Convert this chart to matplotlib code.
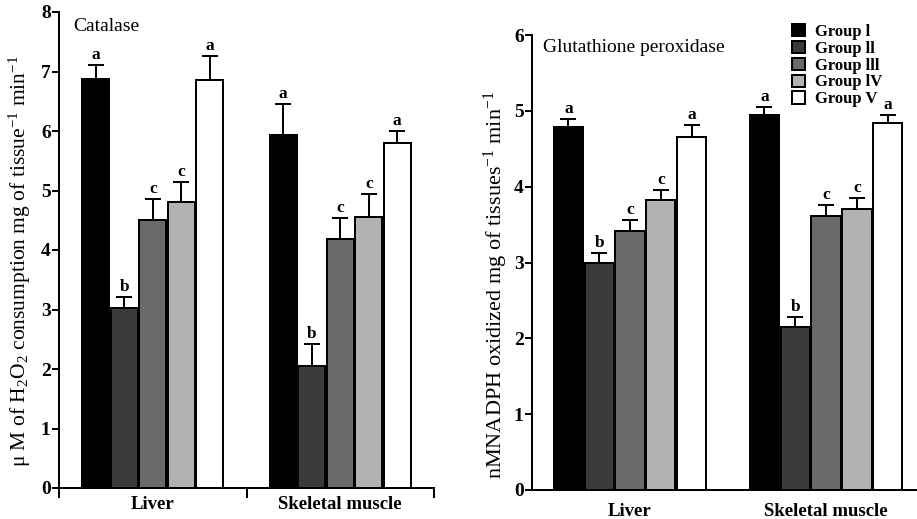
import matplotlib
matplotlib.use("Agg")
import matplotlib.pyplot as plt
from matplotlib.patches import Patch
import numpy as np

plt.rcParams['font.family'] = ['Liberation Serif', 'DejaVu Serif']
plt.rcParams['mathtext.fontset'] = 'custom'
plt.rcParams['mathtext.rm'] = 'Liberation Serif'
plt.rcParams['mathtext.it'] = 'Liberation Serif:italic'
plt.rcParams['mathtext.bf'] = 'Liberation Serif:bold'

tissues = ["Liver", "Skeletal muscle"]
groups = ["Group l", "Group ll", "Group lll", "Group lV", "Group V"]
colors = ["#000000", "#3b3b3b", "#6a6a6a", "#b2b2b2", "#ffffff"]

# Catalase: rows = groups, cols = tissues
cat_mean = [[6.87, 5.93], [3.03, 2.05], [4.50, 4.18], [4.81, 4.56], [6.86, 5.80]]
cat_err = [[0.24, 0.52], [0.18, 0.37], [0.36, 0.35], [0.33, 0.38], [0.40, 0.20]]
cat_letters = [["a", "a"], ["b", "b"], ["c", "c"], ["c", "c"], ["a", "a"]]

# Glutathione peroxidase
gpx_mean = [[4.79, 4.95], [2.99, 2.15], [3.42, 3.61], [3.83, 3.70], [4.66, 4.84]]
gpx_err = [[0.10, 0.10], [0.13, 0.13], [0.14, 0.15], [0.13, 0.15], [0.15, 0.10]]
gpx_letters = [["a", "a"], ["b", "b"], ["c", "c"], ["c", "c"], ["a", "a"]]

W, H = 917, 519
fig = plt.figure(figsize=(W / 100, H / 100), dpi=100)

LW = 2.0 * 72 / 100  # 2 px in points


def panel(ax, means, errs, letters, spacing, width, ylim, yticks, title, title_xy, ylabel,
          ylabel_size, ylabel_xy, xlim, bottom_ticks, label_pad):
    x = np.arange(len(tissues))
    n = len(groups)
    for i in range(n):
        pos = x + (i - (n - 1) / 2) * spacing
        m = np.array(means[i])
        e = np.array(errs[i])
        ax.bar(pos, m, width=width, color=colors[i], edgecolor="black", linewidth=LW, zorder=2)
        ax.errorbar(pos, m, yerr=[np.zeros_like(e), e], fmt="none", ecolor="black",
                    elinewidth=LW, capsize=6, capthick=LW, zorder=3)
        for j in range(len(tissues)):
            ax.annotate(letters[i][j], (pos[j], m[j] + e[j]), xytext=(0, 1.5), textcoords="offset points",
                        ha="center", va="bottom", fontsize=12.5, fontweight="bold", zorder=4)
    ax.set_xlim(*xlim)
    ax.set_ylim(*ylim)
    ax.set_yticks(yticks)
    ax.set_yticklabels([str(t) for t in yticks], fontsize=14, fontweight="bold")
    ax.tick_params(axis="y", direction="out", length=5, width=LW, pad=1)
    ax.set_xticks(x)
    ax.set_xticklabels(tissues, fontsize=13.5, fontweight="bold")
    ax.tick_params(axis="x", length=0, pad=label_pad)
    if bottom_ticks:
        ax.set_xticks([-0.5, 0.5, 1.5], minor=True)
        ax.tick_params(axis="x", which="minor", direction="out", length=7, width=LW)
    for s in ["top", "right"]:
        ax.spines[s].set_visible(False)
    for s in ["left", "bottom"]:
        ax.spines[s].set_linewidth(LW)
    ax.text(title_xy[0], title_xy[1], title, fontsize=14, ha="left", va="center")
    ax.set_ylabel(ylabel, fontsize=ylabel_size)
    ax.yaxis.set_label_coords(*ylabel_xy)


ax1 = fig.add_axes([59 / W, (H - 488) / H, (434 - 59) / W, (488 - 12) / H])
panel(ax1, cat_mean, cat_err, cat_letters, 0.152, 0.145, (0, 8), list(range(0, 9)),
      "Catalase", (-0.425, 7.76),
      r"μ M of H$_2$O$_2$ consumption mg of tissue$^{-1}$ min$^{-1}$",
      15.5, (-0.07, 0.477),
      (-0.5, 1.48), True, 6)

ax2 = fig.add_axes([532 / W, (H - 490) / H, (917 - 532) / W, (490 - 35) / H])
panel(ax2, gpx_mean, gpx_err, gpx_letters, 0.157, 0.15, (0, 6), list(range(0, 7)),
      "Glutathione peroxidase", (-0.444, 5.83),
      r"nMNADPH oxidized mg of tissues$^{-1}$ min$^{-1}$",
      16, (-0.058, 0.45),
      (-0.5, 1.464), False, 9)

handles = [Patch(facecolor=c, edgecolor="black", linewidth=LW) for c in colors]
fig.legend(handles, groups, loc="upper left", bbox_to_anchor=(792 / W, 1 - 24 / H),
           frameon=False, prop={"size": 12, "weight": "bold"}, labelspacing=0.05,
           handlelength=0.8, handleheight=0.75,
           handletextpad=0.6, borderpad=0, borderaxespad=0)

fig.savefig("out.png", dpi=100)
